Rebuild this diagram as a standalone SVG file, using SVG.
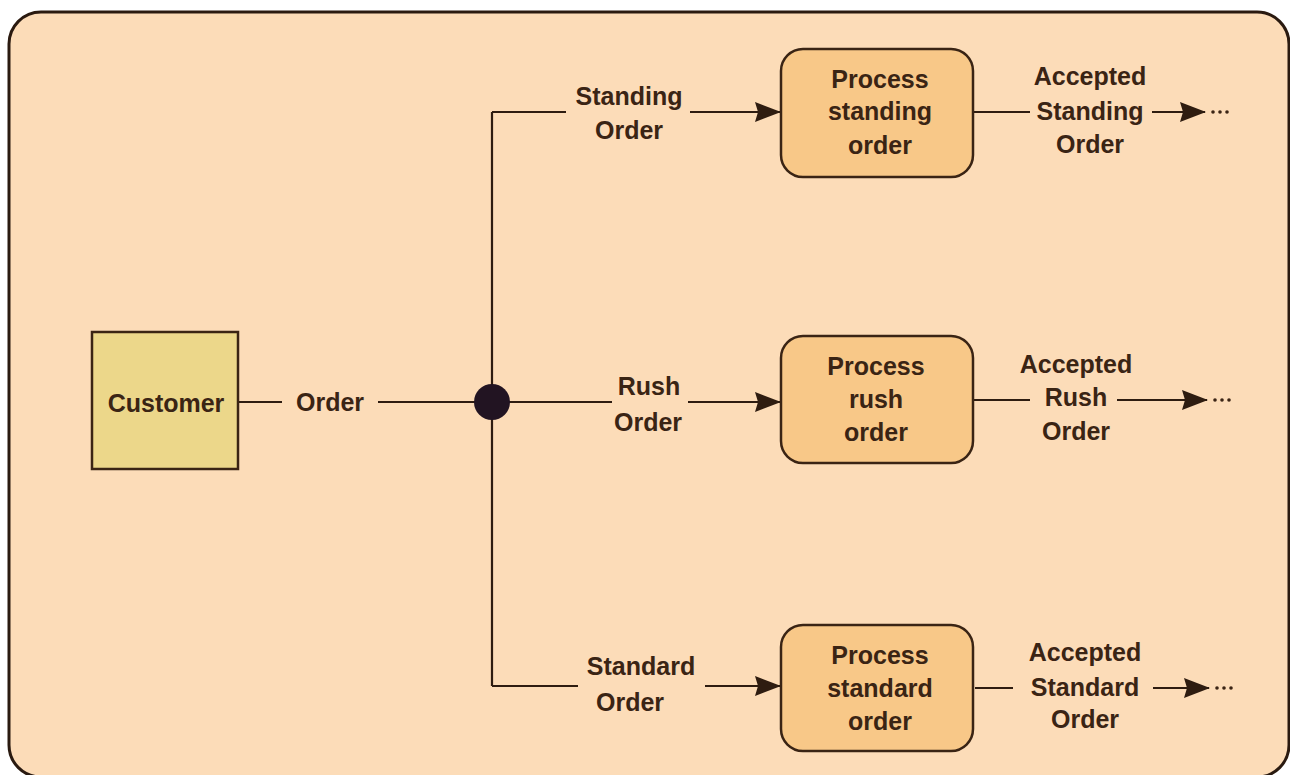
<svg xmlns="http://www.w3.org/2000/svg" width="1290" height="775" viewBox="0 0 1290 775">
<style>
  text { font-family: "Liberation Sans", Arial, sans-serif; font-weight: bold; font-size: 25px; fill: #3a2414; text-anchor: middle; }
  .ln { stroke: #2e1c10; stroke-width: 2.2; fill: none; }
  .proc { fill: #f8c888; stroke: #3a2414; stroke-width: 2.5; }
  .dots { fill: #3a2414; }
</style>
<defs>
  <marker id="arr" viewBox="0 0 26 20" refX="25" refY="10" markerWidth="26" markerHeight="20" markerUnits="userSpaceOnUse" orient="auto">
    <path d="M0,0 L26,10 L0,20 L3,10 Z" fill="#2e1c10"/>
  </marker>
</defs>
<rect x="0" y="0" width="1290" height="775" fill="#ffffff"/>
<rect id="frame" x="9" y="12" width="1280" height="765" rx="32" fill="#fcdcb8" stroke="#2a1a10" stroke-width="3"/>

<g id="connectors">
  <line class="ln" x1="238" y1="402" x2="282" y2="402"/>
  <line class="ln" x1="378" y1="402" x2="492" y2="402"/>
  <line class="ln" x1="492" y1="112" x2="492" y2="686"/>
  <line class="ln" x1="492" y1="112" x2="566" y2="112"/>
  <line class="ln" x1="690" y1="112" x2="780" y2="112" marker-end="url(#arr)"/>
  <line class="ln" x1="492" y1="402" x2="612" y2="402"/>
  <line class="ln" x1="688" y1="402" x2="780" y2="402" marker-end="url(#arr)"/>
  <line class="ln" x1="492" y1="686" x2="578" y2="686"/>
  <line class="ln" x1="705" y1="686" x2="780" y2="686" marker-end="url(#arr)"/>
  <line class="ln" x1="973" y1="112" x2="1030" y2="112"/>
  <line class="ln" x1="1152" y1="112" x2="1205" y2="112" marker-end="url(#arr)"/>
  <line class="ln" x1="973" y1="400" x2="1030" y2="400"/>
  <line class="ln" x1="1117" y1="400" x2="1207" y2="400" marker-end="url(#arr)"/>
  <line class="ln" x1="975" y1="688" x2="1013" y2="688"/>
  <line class="ln" x1="1153" y1="688" x2="1209" y2="688" marker-end="url(#arr)"/>
  <g class="dots">
    <circle cx="1213" cy="112" r="1.8"/><circle cx="1220" cy="112" r="1.8"/><circle cx="1227" cy="112" r="1.8"/>
    <circle cx="1215" cy="400" r="1.8"/><circle cx="1222" cy="400" r="1.8"/><circle cx="1229" cy="400" r="1.8"/>
    <circle cx="1217" cy="688" r="1.8"/><circle cx="1224" cy="688" r="1.8"/><circle cx="1231" cy="688" r="1.8"/>
  </g>
  <text x="330" y="411">Order</text>
  <text x="629" y="105">Standing</text>
  <text x="629" y="139">Order</text>
  <text x="649" y="395">Rush</text>
  <text x="648" y="431">Order</text>
  <text x="641" y="675">Standard</text>
  <text x="630" y="711">Order</text>
  <text x="1090" y="85">Accepted</text>
  <text x="1090" y="120">Standing</text>
  <text x="1090" y="153">Order</text>
  <text x="1076" y="373">Accepted</text>
  <text x="1076" y="406">Rush</text>
  <text x="1076" y="440">Order</text>
  <text x="1085" y="661">Accepted</text>
  <text x="1085" y="696">Standard</text>
  <text x="1085" y="728">Order</text>
</g>

<g id="junction">
  <circle cx="492" cy="402" r="18" fill="#221422"/>
</g>

<g id="customer">
  <rect x="92" y="332" width="146" height="137" fill="#ecd78a" stroke="#3a2414" stroke-width="2.5"/>
  <text x="166" y="412">Customer</text>
</g>

<g id="proc-standing">
  <rect class="proc" x="781" y="49" width="192" height="128" rx="22"/>
  <text x="880" y="88">Process</text>
  <text x="880" y="120">standing</text>
  <text x="880" y="154">order</text>
</g>

<g id="proc-rush">
  <rect class="proc" x="781" y="336" width="192" height="127" rx="22"/>
  <text x="876" y="375">Process</text>
  <text x="876" y="408">rush</text>
  <text x="876" y="441">order</text>
</g>

<g id="proc-standard">
  <rect class="proc" x="781" y="625" width="192" height="126" rx="22"/>
  <text x="880" y="664">Process</text>
  <text x="880" y="697">standard</text>
  <text x="880" y="730">order</text>
</g>
</svg>
